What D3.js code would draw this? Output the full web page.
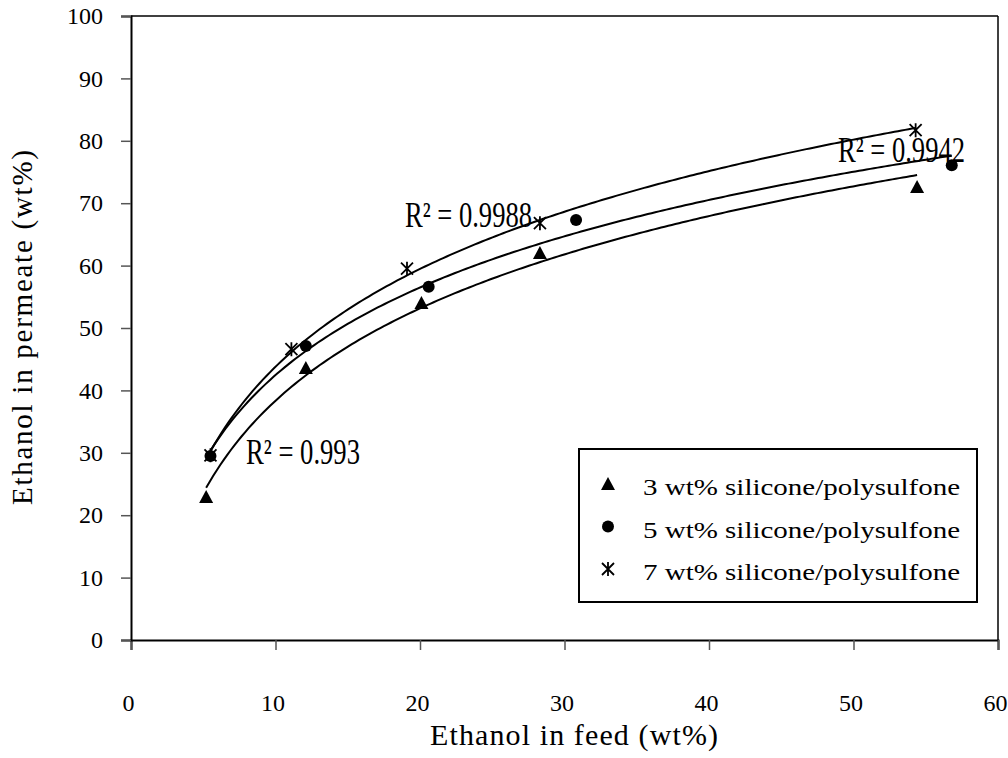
<!DOCTYPE html>
<html>
<head>
<meta charset="utf-8">
<script src="https://cdn.jsdelivr.net/npm/d3@7"></script>
<style>
  body { margin: 0; background: #fff; }
  svg text { font-family: "Liberation Serif", "Times New Roman", serif; fill: #000; }
</style>
</head>
<body>
<div id="chart"></div>
<script>
// data
const feed3 = [5.2, 12.1, 20.1, 28.3, 54.4];
const perm3 = [22.9, 43.6, 54.0, 62.0, 72.6];
const feed5 = [5.5, 12.1, 20.6, 30.8, 56.8];
const perm5 = [29.5, 47.1, 56.6, 67.3, 76.1];
const feed7 = [5.5, 11.1, 19.1, 28.3, 54.3];
const perm7 = [29.6, 46.6, 59.5, 66.8, 81.7];
const seriesNames = ["3 wt% silicone/polysulfone", "5 wt% silicone/polysulfone", "7 wt% silicone/polysulfone"];
const r2Labels = ["0.993", "0.9988", "0.9942"];
const xTicks = [0, 10, 20, 30, 40, 50, 60];
const yTicks = [0, 10, 20, 30, 40, 50, 60, 70, 80, 90, 100];

const width = 1008, height = 758;

const svg = d3.select("#chart").append("svg")
    .attr("width", width)
    .attr("height", height);

const x = d3.scaleLinear().domain([0, 60]).range([131, 998]);
const y = d3.scaleLinear().domain([0, 100]).range([640, 16]);

// frame top / right
svg.append("line")
    .attr("x1", x(0)).attr("x2", x(60))
    .attr("y1", y(100)).attr("y2", y(100))
    .attr("stroke", "#000").attr("stroke-width", 1.5);
svg.append("line")
    .attr("x1", x(60)).attr("x2", x(60))
    .attr("y1", y(100)).attr("y2", y(0))
    .attr("stroke", "#000").attr("stroke-width", 1.5);

// axes
const xAxis = svg.append("g")
    .attr("transform", `translate(0, ${y(0)})`)
    .call(d3.axisBottom(x).tickValues(xTicks).tickSize(10).tickPadding(44).tickFormat(d3.format("d")));
const yAxis = svg.append("g")
    .attr("transform", `translate(${x(0)}, 0)`)
    .call(d3.axisLeft(y).tickValues(yTicks).tickSize(10).tickPadding(18).tickFormat(d3.format("d")));

[xAxis, yAxis].forEach(g => {
    g.select(".domain").attr("stroke", "#000").attr("stroke-width", 2);
    g.selectAll(".tick line").attr("stroke", "#555").attr("stroke-width", 1.5);
    g.selectAll(".tick text").style("font-size", "24px");
});
xAxis.selectAll(".tick text").attr("dx", "-3");

// axis titles
svg.append("text")
    .attr("x", 430)
    .attr("y", 745)
    .attr("textLength", 288)
    .attr("lengthAdjust", "spacing")
    .style("font-size", "30px")
    .text("Ethanol in feed (wt%)");

svg.append("text")
    .attr("transform", `translate(32, 505) rotate(-90)`)
    .attr("textLength", 355)
    .attr("lengthAdjust", "spacing")
    .style("font-size", "29px")
    .text("Ethanol in permeate (wt%)");

// log trendlines y = a ln(x) + b
function logFit(xs, ys) {
    const lx = xs.map(Math.log);
    const mx = d3.mean(lx), my = d3.mean(ys);
    const sxy = d3.sum(lx, (v, i) => (v - mx) * (ys[i] - my));
    const sxx = d3.sum(lx, v => (v - mx) * (v - mx));
    const a = sxy / sxx;
    return { a: a, b: my - a * mx };
}

const series = [
    { feed: feed3, perm: perm3, shape: "triangle" },
    { feed: feed5, perm: perm5, shape: "circle" },
    { feed: feed7, perm: perm7, shape: "star" }
];

const line = d3.line().x(d => x(d[0])).y(d => y(d[1]));

series.forEach(s => {
    const fit = logFit(s.feed, s.perm);
    const x0 = d3.min(s.feed), x1 = d3.max(s.feed);
    const pts = d3.range(0, 201).map(i => {
        const xv = x0 + (x1 - x0) * i / 200;
        return [xv, fit.a * Math.log(xv) + fit.b];
    });
    svg.append("path")
        .datum(pts)
        .attr("d", line)
        .attr("fill", "none")
        .attr("stroke", "#000")
        .attr("stroke-width", 2);
});

function drawMarker(g, shape, cx, cy) {
    if (shape === "triangle") {
        g.append("path")
            .attr("d", `M${cx},${cy - 7} L${cx + 7},${cy + 6} L${cx - 7},${cy + 6} Z`)
            .attr("fill", "#000");
    } else if (shape === "circle") {
        g.append("circle").attr("cx", cx).attr("cy", cy).attr("r", 6).attr("fill", "#000");
    } else {
        const r = 6;
        g.append("path")
            .attr("d", `M${cx - r},${cy - r} L${cx + r},${cy + r} M${cx - r},${cy + r} L${cx + r},${cy - r} M${cx},${cy - r - 1} L${cx},${cy + r + 1}`)
            .attr("stroke", "#000")
            .attr("stroke-width", 1.8)
            .attr("fill", "none");
    }
}

const markers = svg.append("g");
series.forEach(s => {
    s.feed.forEach((f, i) => drawMarker(markers, s.shape, x(f), y(s.perm[i])));
});

// R² labels
const r2Pos = [[246, 464], [405, 227], [838, 162]];
const r2Width = [114, 127, 127];
r2Labels.forEach((lab, i) => {
    svg.append("text")
        .attr("x", r2Pos[i][0])
        .attr("y", r2Pos[i][1])
        .attr("textLength", r2Width[i])
        .attr("lengthAdjust", "spacingAndGlyphs")
        .style("font-size", "35px")
        .text("R\u00B2 = " + lab);
});

// legend
const legend = svg.append("g");
legend.append("rect")
    .attr("x", 579).attr("y", 449)
    .attr("width", 398).attr("height", 153)
    .attr("fill", "#fff")
    .attr("stroke", "#000")
    .attr("stroke-width", 2);

seriesNames.forEach((name, i) => {
    const cy = 484 + i * 42.5;
    drawMarker(legend, series[i].shape, 608, cy);
    legend.append("text")
        .attr("x", 643)
        .attr("y", cy + 11)
        .attr("textLength", 317)
        .attr("lengthAdjust", "spacingAndGlyphs")
        .style("font-size", "23px")
        .text(name);
});
</script>
</body>
</html>
